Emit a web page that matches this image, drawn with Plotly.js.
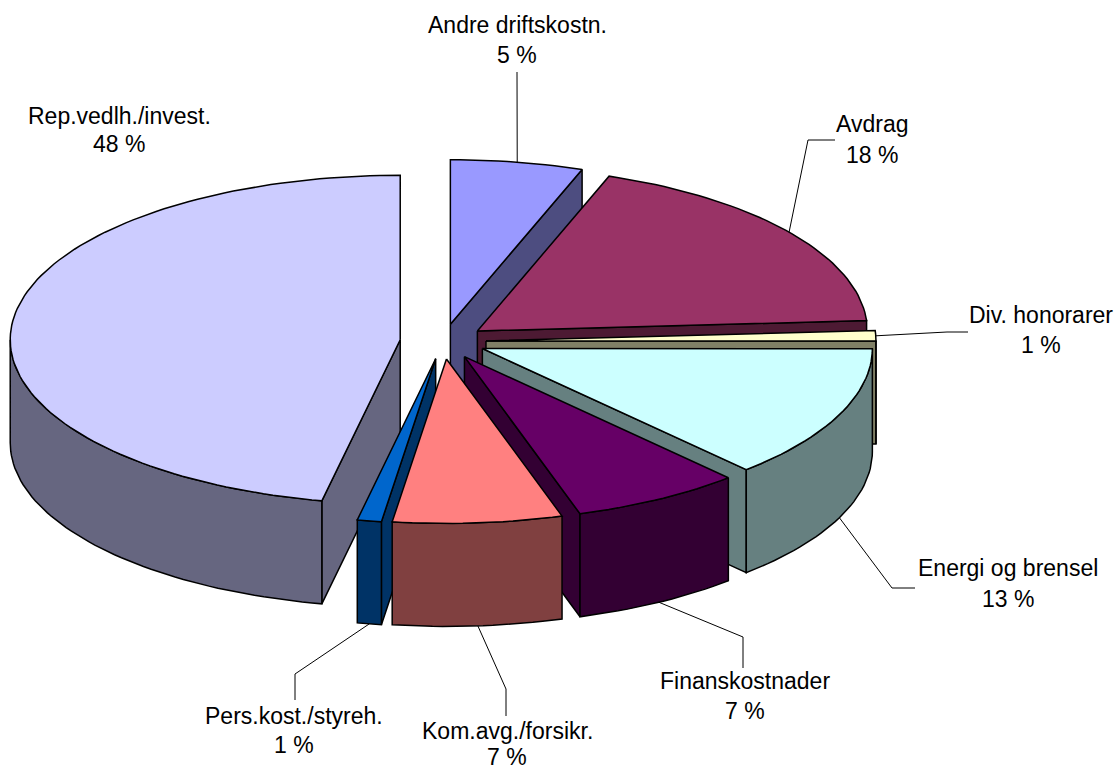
<!DOCTYPE html>
<html><head><meta charset="utf-8">
<script src="https://cdn.plot.ly/plotly-3.0.1.min.js"></script>
<style>html,body{margin:0;padding:0;background:#fff}#c{width:1114px;height:769px}</style>
</head><body><div id="c"></div>
<script>
// Data, clockwise from 12 o'clock
const categories = ["Andre driftskostn.","Avdrag","Div. honorarer","Energi og brensel","Finanskostnader","Kom.avg./forsikr.","Pers.kost./styreh.","Rep.vedlh./invest."];
const values = [5,18,1,13,7,7,1,48];
const topColors  = ["#9999FF","#993366","#FFFFCC","#CCFFFF","#660066","#FF8080","#0066CC","#CCCCFF"];
const wallColors = ["#4D4D80","#4D1A33","#808066","#668080","#330033","#804040","#003366","#666680"];

// Styling / layout of the pseudo-3D pie
const W=1114, H=769;
const cx=443, cy=341.5, rx=390, ry=164.5, depth=103, explodeX=43, explodeY=17.5;
const drawOrder=[0,7,1,2,3,4,6,5];
const labelPos=[[517,25,55],[872,124,155],[1041,315,345],[1008,568,599],[745,681,711],[507,731,757],[294,716,745],[119,116,144]];
const leaderBends=[[[517,72]],[[808,140],[835,140]],[[947,332],[968,332]],[[892,588],[915,588]],[[743,637],[743,668]],[[506,689],[506,716]],[[295,674],[295,700]],[]];

const rad=d=>d*Math.PI/180;
// foreshortening of the perspective view: small shift of projected angles
const warp=a=>a+4.4*Math.sqrt(Math.max(0,Math.sin(rad(a/2))));
const total=values.reduce((s,v)=>s+v,0);
let cum=0;
const slices=values.map((v,i)=>{
  const a0=cum/total*360; cum+=v; const a1=cum/total*360;
  const t0=warp(a0), t1=i===values.length-1?360:warp(a1), m=(t0+t1)/2;
  return {i,t0,t1,m,ax:cx+explodeX*Math.sin(rad(m)),ay:cy-explodeY*Math.cos(rad(m))};
});
const rim=(s,t)=>[s.ax+rx*Math.sin(rad(t)),s.ay-ry*Math.cos(rad(t))];
const arc=(s,a,b)=>{const n=Math.max(2,Math.ceil((b-a)/1.5));const o=[];for(let k=0;k<=n;k++)o.push(rim(s,a+(b-a)*k/n));return o;};
const poly=(pts,fill)=>({type:'scatter',mode:'lines',x:[...pts.map(p=>p[0]),pts[0][0]],y:[...pts.map(p=>p[1]),pts[0][1]],
  fill:'toself',fillcolor:fill,line:{color:'#000',width:1.5},hoverinfo:'skip',showlegend:false});
const traces=[];
drawOrder.forEach(idx=>{
  const s=slices[idx], wall=wallColors[idx], A=[s.ax,s.ay];
  const radial=t=>{const P=rim(s,t);return poly([A,P,[P[0],P[1]+depth],[A[0],A[1]+depth]],wall);};
  if(Math.sin(rad(s.t0))<0) traces.push(radial(s.t0));
  if(Math.sin(rad(s.t1))>0 && s.t1<360) traces.push(radial(s.t1));
  const f0=Math.max(s.t0,90), f1=Math.min(s.t1,270);
  if(f1>f0){const top=arc(s,f0,f1);const bottom=top.slice().reverse().map(p=>[p[0],p[1]+depth]);traces.push(poly([...top,...bottom],wall));}
  traces.push(poly([A,...arc(s,s.t0,s.t1)],topColors[idx]));
});

const shapes=[],annotations=[];
slices.forEach(s=>{
  const i=s.i, P=rim(s,s.m), front=Math.cos(rad(s.m))<0 && s.m>91;
  const start=[P[0],P[1]+(front?depth:0)];
  if(leaderBends[i].length){
    const pts=[start,...leaderBends[i]];
    shapes.push({type:'path',xref:'x',yref:'y',path:'M'+pts.map(p=>p.join(' ')).join(' L'),line:{color:'#000',width:1}});
  }
  const font={family:'"Liberation Sans",Arial,sans-serif',size:23,color:'#000'};
  annotations.push({x:labelPos[i][0],y:labelPos[i][1],xref:'x',yref:'y',text:categories[i],showarrow:false,font,xanchor:'center',yanchor:'middle',borderpad:0});
  annotations.push({x:labelPos[i][0],y:labelPos[i][2],xref:'x',yref:'y',text:values[i]+' %',showarrow:false,font,xanchor:'center',yanchor:'middle',borderpad:0});
});
const hidden={range:[0,W],visible:false,fixedrange:true};
Plotly.newPlot('c',traces,{width:W,height:H,margin:{l:0,r:0,t:0,b:0},paper_bgcolor:'#fff',plot_bgcolor:'#fff',showlegend:false,
  xaxis:hidden,yaxis:{range:[H,0],visible:false,fixedrange:true},shapes,annotations},{displayModeBar:false,staticPlot:true});
</script></body></html>
